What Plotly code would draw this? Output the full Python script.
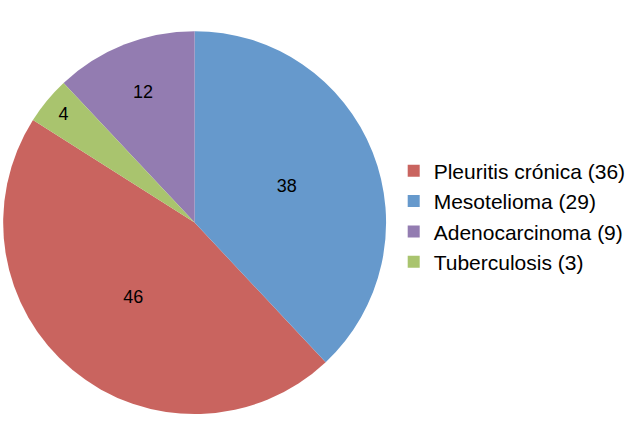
import plotly.graph_objects as go

# categories in legend order
labels = ["Pleuritis crónica (36)", "Mesotelioma (29)", "Adenocarcinoma (9)", "Tuberculosis (3)"]
percent = [46, 38, 12, 4]
colors = ["#C9645F", "#6699CC", "#937CB1", "#A9C46E"]

fig = go.Figure()
fig.add_trace(go.Pie(
    labels=labels,
    values=percent,
    sort=False,
    direction="counterclockwise",
    rotation=136.8,  # red slice ends where blue starts (38% clockwise from top)
    marker=dict(colors=colors, line=dict(width=0)),
    texttemplate="%{value}",
    textposition="inside",
    insidetextorientation="horizontal",
    textfont=dict(family="Liberation Sans, Arial", size=18, color="black"),
    domain=dict(x=[0.005, 0.608], y=[0.063, 0.932]),
    hoverinfo="label+value",
))
fig.update_layout(
    width=635, height=443,
    margin=dict(l=0, r=0, t=0, b=0),
    paper_bgcolor="white",
    font=dict(family="Liberation Sans, Arial", size=18, color="black"),
    legend=dict(x=0.62, y=0.511, xanchor="left", yanchor="middle",
                font=dict(size=21), tracegroupgap=0),
    showlegend=True,
)

# page has a default 8px body margin; drop it so the figure sits at 0,0
fig.write_html("out.html", config={"displayModeBar": False},
               post_script="document.body.style.margin='0';")
